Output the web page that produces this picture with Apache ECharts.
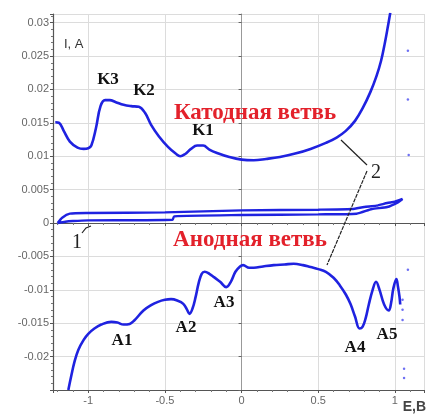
<!DOCTYPE html>
<html><head><meta charset="utf-8">
<script src="https://cdn.jsdelivr.net/npm/echarts@6/dist/echarts.min.js"></script>
<style>html,body{margin:0;padding:0;background:#fff}#c{width:426px;height:414px}</style>
</head><body><div id="c"></div>
<script>
// Data (E, V ; I, A)
const cathodicBranch = [
 [-1.215,0.0151],[-1.19,0.0150],[-1.16,0.0138],[-1.12,0.0122],[-1.07,0.0113],[-1.03,0.0111],
 [-1.0,0.0112],[-0.98,0.0116],[-0.95,0.0142],[-0.92,0.0175],[-0.89,0.0184],[-0.86,0.0184],
 [-0.82,0.0181],[-0.77,0.0177],[-0.72,0.0175],[-0.67,0.0174],[-0.63,0.0165],[-0.59,0.0147],
 [-0.54,0.0130],[-0.48,0.0114],[-0.43,0.0104],[-0.40,0.0100],[-0.37,0.0103],[-0.33,0.0111],
 [-0.29,0.0116],[-0.25,0.0116],[-0.21,0.0110],[-0.16,0.0105],[-0.08,0.0099],[0.0,0.0095],
 [0.08,0.0094],[0.16,0.0096],[0.25,0.0099],[0.35,0.0104],[0.45,0.0111],[0.55,0.0120],
 [0.62,0.0128],[0.68,0.0138],[0.74,0.0153],[0.79,0.0172],[0.84,0.0196],[0.88,0.0220],
 [0.91,0.0243],[0.935,0.0270],[0.955,0.0295],[0.97,0.0315]
];
const anodicBranch = [
 [-1.13,-0.0250],[-1.11,-0.0228],[-1.09,-0.0208],[-1.065,-0.0190],[-1.03,-0.0175],[-1.0,-0.0166],
 [-0.96,-0.0158],[-0.915,-0.0152],[-0.85,-0.0148],[-0.81,-0.0149],[-0.77,-0.0152],[-0.73,-0.0151],
 [-0.70,-0.0146],[-0.64,-0.0131],[-0.59,-0.0123],[-0.545,-0.0118],[-0.50,-0.0115],[-0.46,-0.0114],
 [-0.42,-0.0116],[-0.38,-0.0121],[-0.355,-0.0130],[-0.34,-0.0136],[-0.32,-0.0128],[-0.30,-0.0111],
 [-0.28,-0.0090],[-0.26,-0.0076],[-0.24,-0.0073],[-0.21,-0.0076],[-0.18,-0.0081],[-0.14,-0.0088],
 [-0.10,-0.0096],[-0.07,-0.0088],[-0.04,-0.0073],[-0.01,-0.0065],[0.01,-0.0063],[0.05,-0.0067],
 [0.08,-0.0067],[0.14,-0.0065],[0.21,-0.0063],[0.28,-0.0062],[0.34,-0.0061],[0.40,-0.0063],
 [0.45,-0.0066],[0.50,-0.0069],[0.55,-0.0073],[0.60,-0.0082],[0.64,-0.0093],[0.68,-0.0107],
 [0.71,-0.0121],[0.74,-0.0140],[0.77,-0.0158],[0.79,-0.0155],[0.81,-0.0142],[0.83,-0.0122],
 [0.855,-0.0100],[0.877,-0.0088],[0.90,-0.0100],[0.93,-0.0122],[0.96,-0.0131],[0.975,-0.0120],
 [0.99,-0.0098],[1.01,-0.0084],[1.02,-0.0095],[1.03,-0.0110],[1.035,-0.0122]
];
const loopCurve = [
 [-1.20,0.0000],[-1.17,0.0008],[-1.12,0.0014],[-1.0,0.0015],[-0.5,0.0016],[0.0,0.0019],
 [0.5,0.0020],[0.72,0.0021],[0.80,0.0024],[0.88,0.0026],[0.95,0.0030],[1.0,0.0032],[1.05,0.0036],
 [1.02,0.0031],[0.95,0.0024],[0.85,0.0021],[0.75,0.0014],[0.5,0.0013],[0.0,0.0012],
 [-0.44,0.0010],[-0.45,0.0005],[-1.0,0.0004],[-1.1,0.0003],[-1.15,0.0002],[-1.20,0.0000]
];
const strayPoints = [
 [1.085,0.0258],[1.085,0.0185],[1.09,0.0102],[1.085,-0.0070],[1.05,-0.0115],[1.05,-0.0130],
 [1.05,-0.0145],[1.06,-0.0218],[1.06,-0.0232]
];
const xTickValues = [-1,-0.5,0,0.5,1];
const yTickValues = [-0.02,-0.015,-0.01,-0.005,0,0.005,0.01,0.015,0.02,0.025,0.03];

const BLUE = '#1f22e0';
const chart = echarts.init(document.getElementById('c'), null, {renderer:'canvas'});
const labelFont = {color:'#666', fontSize:11, fontFamily:'Liberation Sans, Arial, sans-serif'};
const serifBold = 'bold 17px "Liberation Serif", "DejaVu Serif", serif';
const redFont = 'bold 23px "Liberation Serif", "DejaVu Serif", serif';
function txt(x,y,t,font,color,align){
  return {type:'text', x:x, y:y, style:{text:t, font:font, fill:color||'#111', align:align||'center', verticalAlign:'middle'}, z:100};
}
const option = {
  animation:false,
  backgroundColor:'#fff',
  grid:{left:53, right:2, top:14, bottom:24},
  xAxis:[{
    type:'value', min:-1.23, max:1.19, splitNumber:5,
    axisLine:{onZero:false, lineStyle:{color:'#555', width:1.2}},
    axisTick:{show:true, length:3, lineStyle:{color:'#555'}},
    minorTick:{show:true, splitNumber:5, length:2, lineStyle:{color:'#777'}},
    axisLabel:{...labelFont, margin:5, customValues:xTickValues},
    splitLine:{show:true, lineStyle:{color:'#dcdcdc', width:1}}
  },{
    type:'value', position:'top', min:-1.23, max:1.19, splitNumber:5,
    axisLine:{lineStyle:{color:'#555', width:1.2}},
    axisTick:{show:true, inside:true, length:3, lineStyle:{color:'#555'}},
    minorTick:{show:true, splitNumber:5, length:2, lineStyle:{color:'#777'}},
    axisLabel:{show:false}, splitLine:{show:false}
  }],
  yAxis:[{
    type:'value', min:-0.025, max:0.0313, interval:0.005,
    axisLine:{onZero:false, lineStyle:{color:'#555', width:1.2}},
    axisTick:{show:true, length:3, lineStyle:{color:'#555'}},
    minorTick:{show:true, splitNumber:5, length:2, lineStyle:{color:'#777'}},
    axisLabel:{...labelFont, margin:4, customValues:yTickValues},
    splitLine:{show:true, lineStyle:{color:'#dcdcdc', width:1}}
  },{
    type:'value', position:'right', min:-0.025, max:0.0313, interval:0.005,
    axisLine:{show:true, lineStyle:{color:'#999', width:1}},
    axisTick:{show:true, inside:true, length:3, lineStyle:{color:'#666'}},
    axisLabel:{show:false}, splitLine:{show:false}
  }],
  series:[
    {type:'line', data:cathodicBranch, smooth:0.4, showSymbol:false, lineStyle:{color:BLUE, width:2.6}, z:5},
    {type:'line', data:anodicBranch, smooth:0.4, showSymbol:false, lineStyle:{color:BLUE, width:2.6}, z:5},
    {type:'line', data:loopCurve, smooth:0.2, showSymbol:false, lineStyle:{color:BLUE, width:2.4}, z:5},
    {type:'scatter', data:strayPoints, symbolSize:2.5, itemStyle:{color:'#4a4cf0', opacity:0.8}, z:4}
  ],
  graphic:[
    txt(64,44,'I, A','13px "Liberation Sans", Arial, sans-serif','#333','left'),
    txt(108,80,'K3',serifBold),
    txt(144,91,'K2',serifBold),
    txt(203,131,'K1',serifBold),
    txt(255,113,'Катодная ветвь',redFont,'#e3212b'),
    txt(250,240,'Анодная ветвь',redFont,'#e3212b'),
    txt(122,341,'A1',serifBold),
    txt(186,328,'A2',serifBold),
    txt(224,303,'A3',serifBold),
    txt(355,348,'A4',serifBold),
    txt(387,335,'A5',serifBold),
    txt(77,243,'1','20px "Liberation Serif", serif','#222'),
    txt(376,173,'2','20px "Liberation Serif", serif','#222'),
    txt(426,407,'E,B','bold 14px "Liberation Sans", Arial, sans-serif','#444','right'),
    {type:'polyline', shape:{points:[[82,233],[86,228],[91,226]]}, style:{stroke:'#222', lineWidth:1.2, fill:null}, z:100},
    {type:'line', shape:{x1:341,y1:140,x2:367,y2:165}, style:{stroke:'#222', lineWidth:1.2}, z:100},
    {type:'line', shape:{x1:367,y1:171,x2:327,y2:265}, style:{stroke:'#222', lineWidth:1.2, lineDash:[4,1]}, z:100}
  ]
};
chart.setOption(option);
</script></body></html>
